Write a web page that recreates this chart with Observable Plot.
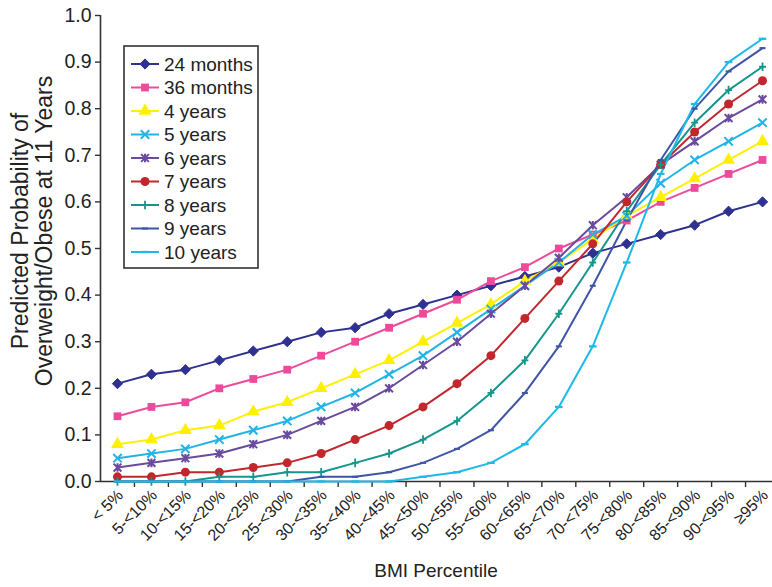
<!DOCTYPE html>
<html>
<head>
<meta charset="utf-8">
<script src="https://cdn.jsdelivr.net/npm/d3@7"></script>
<script src="https://cdn.jsdelivr.net/npm/@observablehq/plot@0.6"></script>
<style>
  html, body { margin: 0; padding: 0; background: #fff; }
  #chart svg { display: block; }
</style>
</head>
<body>
<div id="chart"></div>
<script>
const categories = ["< 5%","5-<10%","10-<15%","15-<20%","20-<25%","25-<30%","30-<35%","35-<40%","40-<45%","45-<50%","50-<55%","55-<60%","60-<65%","65-<70%","70-<75%","75-<80%","80-<85%","85-<90%","90-<95%","≥95%"];

const seriesNames = ["24 months","36 months","4 years","5 years","6 years","7 years","8 years","9 years","10 years"];

const m24 = [0.21,0.23,0.24,0.26,0.28,0.30,0.32,0.33,0.36,0.38,0.40,0.42,0.44,0.46,0.49,0.51,0.53,0.55,0.58,0.60];
const m36 = [0.14,0.16,0.17,0.20,0.22,0.24,0.27,0.30,0.33,0.36,0.39,0.43,0.46,0.50,0.53,0.56,0.60,0.63,0.66,0.69];
const y4  = [0.08,0.09,0.11,0.12,0.15,0.17,0.20,0.23,0.26,0.30,0.34,0.38,0.43,0.47,0.52,0.57,0.61,0.65,0.69,0.73];
const y5  = [0.05,0.06,0.07,0.09,0.11,0.13,0.16,0.19,0.23,0.27,0.32,0.37,0.42,0.47,0.53,0.57,0.64,0.69,0.73,0.77];
const y6  = [0.03,0.04,0.05,0.06,0.08,0.10,0.13,0.16,0.20,0.25,0.30,0.36,0.42,0.48,0.55,0.61,0.68,0.73,0.78,0.82];
const y7  = [0.01,0.01,0.02,0.02,0.03,0.04,0.06,0.09,0.12,0.16,0.21,0.27,0.35,0.43,0.51,0.60,0.68,0.75,0.81,0.86];
const y8  = [0.00,0.00,0.00,0.01,0.01,0.02,0.02,0.04,0.06,0.09,0.13,0.19,0.26,0.36,0.47,0.58,0.68,0.77,0.84,0.89];
const y9  = [0.00,0.00,0.00,0.00,0.00,0.00,0.01,0.01,0.02,0.04,0.07,0.11,0.19,0.29,0.42,0.56,0.69,0.80,0.88,0.93];
const y10 = [0.00,0.00,0.00,0.00,0.00,0.00,0.00,0.00,0.00,0.01,0.02,0.04,0.08,0.16,0.29,0.47,0.66,0.81,0.90,0.95];

const seriesValues = [m24, m36, y4, y5, y6, y7, y8, y9, y10];
const seriesColors = ["#2E3192","#EE4A9B","#FFF000","#22B4E6","#6A4A9E","#C1272D","#15968C","#3F55A6","#1CB9EA"];

const yTicks = [0,0.1,0.2,0.3,0.4,0.5,0.6,0.7,0.8,0.9,1.0];

// custom marker shapes
const asteriskX = {draw(ctx, size) { const r = Math.sqrt(size / Math.PI);
  ctx.moveTo(-r,-r); ctx.lineTo(r,r); ctx.moveTo(-r,r); ctx.lineTo(r,-r); ctx.moveTo(0,-r*1.1); ctx.lineTo(0,r*1.1); }};
const dashShort = {draw(ctx, size) { const r = Math.sqrt(size / Math.PI);
  ctx.rect(-r, -r*0.35, 2*r, r*0.7); }};
const dashLong = {draw(ctx, size) { const r = Math.sqrt(size / Math.PI);
  ctx.rect(-r, -r*0.3, 2*r, r*0.6); }};
const plusTall = {draw(ctx, size) { const r = Math.sqrt(size / Math.PI);
  ctx.moveTo(-r*0.8,0); ctx.lineTo(r*0.8,0); ctx.moveTo(0,-r); ctx.lineTo(0,r); }};

const markerSpecs = [
  {symbol: "diamond2", r: 4.6, filled: true, sw: 1},
  {symbol: "square", r: 4.4, filled: true, sw: 0},
  {symbol: "triangle", r: 4.8, filled: true, sw: 0},
  {symbol: "times", r: 3.9, filled: false, sw: 2},
  {symbol: asteriskX, r: 3.9, filled: false, sw: 2},
  {symbol: "circle", r: 4.5, filled: true, sw: 0},
  {symbol: plusTall, r: 4.3, filled: false, sw: 1.8},
  {symbol: dashShort, r: 3.0, filled: true, sw: 0},
  {symbol: dashLong, r: 3.8, filled: true, sw: 0}
];

const rows = seriesNames.map((name, s) => seriesValues[s].map((v, i) => ({series: name, i, v})));

const marks = [
  Plot.ruleY([0], {stroke: "#333", strokeWidth: 1.6}),
  Plot.ruleX([-0.5], {stroke: "#333", strokeWidth: 1.6}),
  Plot.axisY({ticks: yTicks, tickFormat: d3.format(".1f"), tickSize: 5, tickPadding: 4, fontSize: 19.5, label: null, stroke: "#333", strokeWidth: 1.4}),
  Plot.axisX({ticks: d3.range(categories.length), tickFormat: i => categories[i], tickSize: 0, tickRotate: -45, tickPadding: 11, dx: 3, fontSize: 16, label: null}),
  Plot.axisX({ticks: d3.range(categories.length - 1).map(i => i + 0.5), tickFormat: () => "", tickSize: 6, label: null, stroke: "#333", strokeWidth: 1.4})
];
seriesNames.forEach((name, s) => {
  marks.push(Plot.line(rows[s], {x: "i", y: "v", stroke: seriesColors[s], strokeWidth: 2}));
});
seriesNames.forEach((name, s) => {
  const m = markerSpecs[s];
  marks.push(Plot.dot(rows[s], {x: "i", y: "v", symbol: () => m.symbol, r: m.r,
    fill: m.filled ? seriesColors[s] : "none", stroke: seriesColors[s], strokeWidth: m.sw || 0.01}));
});

const chart = Plot.plot({
  width: 772, height: 587,
  marginLeft: 100, marginTop: 15, marginBottom: 106, marginRight: 0,
  style: {fontFamily: "'Liberation Sans', Arial, sans-serif", fontSize: "18px", background: "white", color: "#222"},
  x: {type: "linear", domain: [-0.5, 19.5], range: [100, 779]},
  y: {domain: [0, 1], range: [481, 15]},
  symbol: {type: "identity"},
  marks
});
document.getElementById("chart").appendChild(chart);

// titles and legend
const svg = d3.select(chart);
svg.append("text").attr("x", 436).attr("y", 577).attr("text-anchor", "middle")
  .attr("font-size", 19).attr("fill", "#222").text("BMI Percentile");
svg.append("text").attr("transform", "translate(28,231) rotate(-90)").attr("text-anchor", "middle")
  .attr("font-size", 23).attr("fill", "#222").text("Predicted Probability of");
svg.append("text").attr("transform", "translate(52,231) rotate(-90)").attr("text-anchor", "middle")
  .attr("font-size", 23).attr("fill", "#222").text("Overweight/Obese at 11 Years");

const lg = svg.append("g");
lg.append("rect").attr("x", 124).attr("y", 46).attr("width", 134).attr("height", 222)
  .attr("fill", "white").attr("stroke", "#333").attr("stroke-width", 1.6);
const symMap = {diamond2: d3.symbolDiamond2, square: d3.symbolSquare, triangle: d3.symbolTriangle, times: d3.symbolTimes, circle: d3.symbolCircle};
seriesNames.forEach((name, s) => {
  const yy = 64 + s * 23.5;
  const m = markerSpecs[s];
  lg.append("line").attr("x1", 131).attr("x2", 159).attr("y1", yy).attr("y2", yy)
    .attr("stroke", seriesColors[s]).attr("stroke-width", 2);
  const sym = typeof m.symbol === "string" ? symMap[m.symbol] : m.symbol;
  lg.append("path").attr("transform", `translate(145,${yy})`)
    .attr("d", d3.symbol(sym, m.r * m.r * Math.PI)())
    .attr("fill", m.filled ? seriesColors[s] : "none").attr("stroke", seriesColors[s]).attr("stroke-width", m.sw || 0);
  lg.append("text").attr("x", 164).attr("y", yy + 6.5).attr("text-anchor", "start")
    .attr("font-size", 19).attr("fill", "#222").text(name);
});
</script>
</body>
</html>
